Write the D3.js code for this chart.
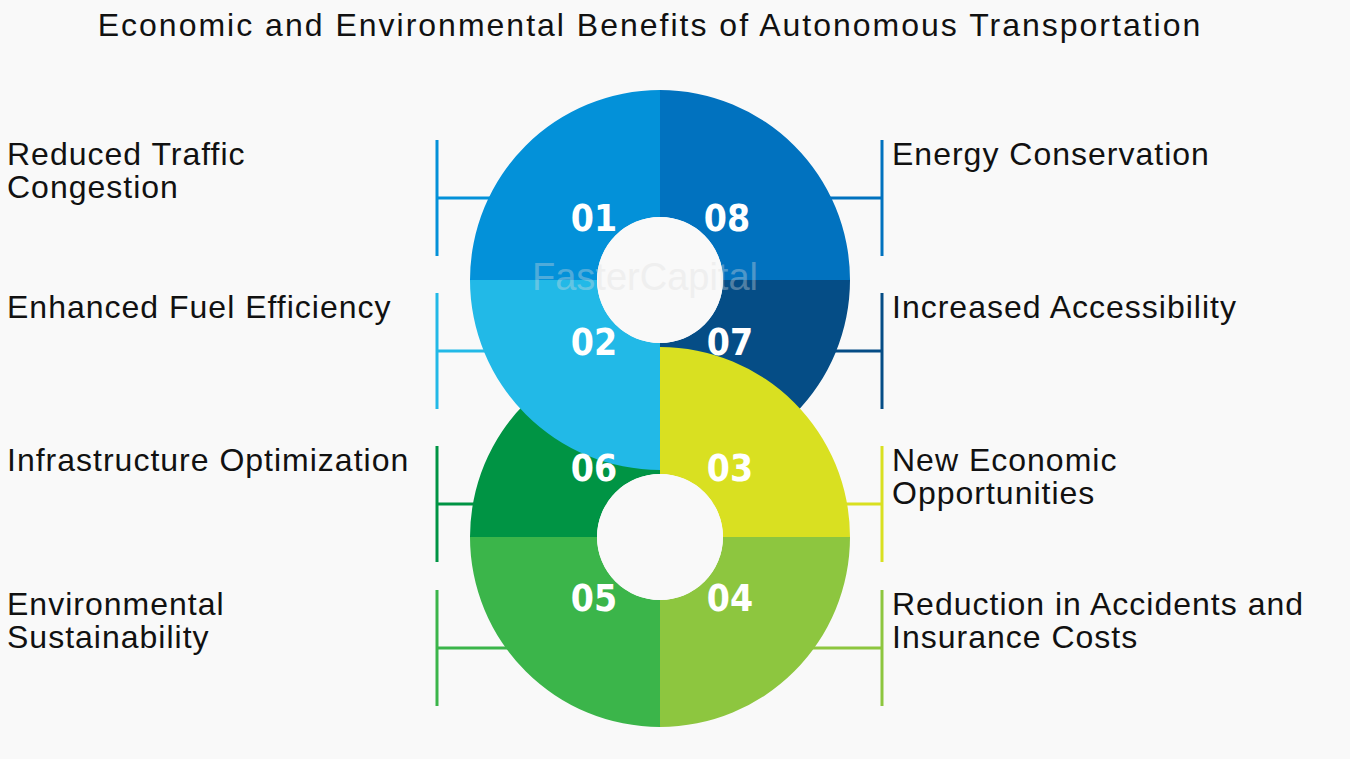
<!DOCTYPE html>
<html><head><meta charset="utf-8">
<script src="https://cdn.jsdelivr.net/npm/d3@7"></script>
<style>body{margin:0;background:#f9f9f9;}</style>
</head><body>
<svg id="chart" width="1350" height="759"></svg>
<script>
// data
var title = "Economic and Environmental Benefits of Autonomous Transportation";
var numbers = ["01","08","07","02","03","04","05","06"];
var labels = ["Reduced Traffic|Congestion","Energy Conservation","Increased Accessibility","Enhanced Fuel Efficiency",
              "New Economic|Opportunities","Reduction in Accidents and|Insurance Costs","Environmental|Sustainability","Infrastructure Optimization"];
var colors = ["#0391d9","#0172bf","#054d86","#22b9e7","#d9e021","#8dc63f","#3bb54a","#009444"];
var ring = [0,0,0,0,1,1,1,1];      // which circle
var quadrant = [3,0,1,2,0,1,2,3];  // 0=TR,1=BR,2=BL,3=TL
var rowY = [198,198,351,351,504,648,648,504];

var svg = d3.select("#chart");
svg.append("rect").attr("width",1350).attr("height",759).attr("fill","#f9f9f9");
svg.append("text").attr("x",650).attr("y",36).attr("text-anchor","middle")
   .attr("font-family","Liberation Sans, Arial").attr("font-size",32).attr("letter-spacing",2)
   .attr("fill","#111").text(title);

var cx = 660, centers = [280,537], R = 190, r0 = 63;
var arc = d3.arc().innerRadius(r0).outerRadius(R);

// brackets
numbers.forEach(function(n,i){
    var left = quadrant[i] >= 2;
    var xv = left ? 437 : 882;
    var g = svg.append("g").attr("stroke",colors[i]).attr("stroke-width",3);
    g.append("line").attr("x1",xv).attr("x2",xv).attr("y1",rowY[i]-58).attr("y2",rowY[i]+58);
    g.append("line").attr("x1",xv).attr("x2",cx).attr("y1",rowY[i]).attr("y2",rowY[i]);
    var lines = labels[i].split("|");
    var t = svg.append("text").attr("x", left ? 7 : 892).attr("y", rowY[i]-33)
       .attr("font-family","Liberation Sans, Arial").attr("font-size",32).attr("letter-spacing",1)
       .attr("fill","#111");
    lines.forEach(function(l,k){ t.append("tspan").attr("x", left ? 7 : 892).attr("dy", k ? 33 : 0).text(l); });
});

// draw order: top ring (except 02), bottom ring, then 02
var order = [0,1,2,7,4,5,6,3];
order.forEach(function(i){
    var q = quadrant[i];
    svg.append("path")
       .attr("transform","translate("+cx+","+centers[ring[i]]+")")
       .attr("d", arc({startAngle:q*Math.PI/2, endAngle:(q+1)*Math.PI/2}))
       .attr("fill",colors[i]);
});
centers.forEach(function(cy){
    svg.append("circle").attr("cx",cx).attr("cy",cy).attr("r",r0).attr("fill","#f9f9f9");
});

svg.append("text").attr("x",645).attr("y",290).attr("text-anchor","middle")
   .attr("font-family","Liberation Sans, Arial").attr("font-size",38).attr("fill","#ddd").attr("opacity",0.35)
   .text("FasterCapital");

var numPos = [[594,218],[727,218],[730,342],[594,342],[730,468],[730,598],[594,598],[594,468]];
numbers.forEach(function(n,i){
    svg.append("text").attr("x",numPos[i][0]).attr("y",numPos[i][1]+13).attr("text-anchor","middle")
       .attr("font-family","Liberation Sans Narrow, DejaVu Sans Condensed, Arial").attr("font-weight","bold")
       .attr("font-size",37).attr("fill","#fff").text(n);
});
</script>
</body></html>
